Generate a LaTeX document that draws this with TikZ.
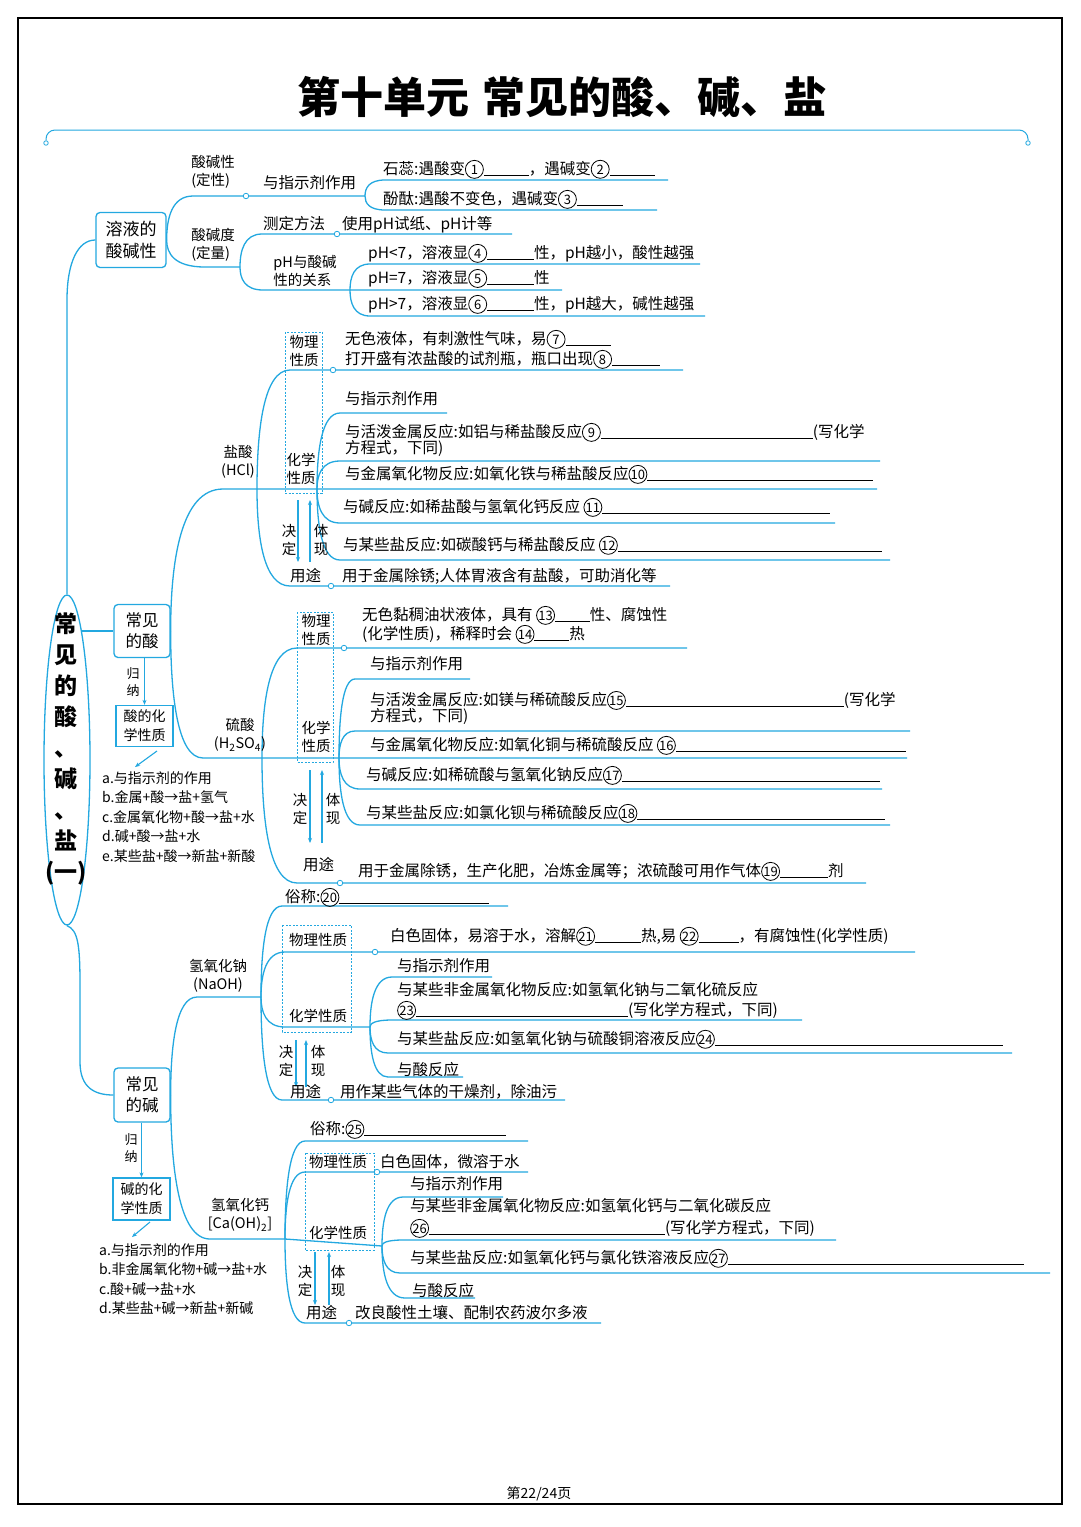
\documentclass[tikz,border=0pt]{standalone}
\usepackage{fontspec}
\setmainfont{Noto Sans CJK SC}
\usetikzlibrary{shapes.geometric,arrows.meta,calc}
\definecolor{mapblue}{RGB}{35,168,224}
\newcommand\fsz[2]{\fontsize{#1}{#2}\selectfont}
\newcommand\blank[1]{\rule[-2pt]{#1pt}{0.8pt}}
% circled answer number
\newcommand\cn[1]{\tikz[baseline=(cnum.base)]\node[circle, draw=black, line width=0.8pt, inner sep=0pt,
    minimum size=18pt, font=\fsz{13}{13}] (cnum) {#1};}
% curved branch: junction -> start of line -> end of line
\newcommand\brch[3]{\draw[br] (#1) .. controls ($(#1)!0.5!(#1|-#2)$) and ($(#2)!0.8!(#1|-#2)$) .. (#2) -- (#3);}

\begin{document}
\begin{tikzpicture}[
    x=1pt, y=-1pt,
    br/.style={mapblue, line width=1.3pt},
    txt/.style={anchor=base west, inner sep=0pt, font=\fsz{15.5}{18}},
    lbl/.style={inner sep=0pt, align=center, font=\fsz{14.5}{18.5}},
    rbox/.style={draw=mapblue, line width=1.3pt, rounded corners=4pt, align=center, inner sep=0pt},
    sbox/.style={draw=mapblue, line width=1.3pt, align=center, inner sep=0pt, font=\fsz{14}{19}},
    dashbox/.style={draw=mapblue, line width=0.8pt, dash pattern=on 2pt off 1.5pt},
    dot/.style={circle, draw=mapblue, fill=white, line width=0.8pt, inner sep=0pt, minimum size=5.5pt},
    arr/.style={mapblue, line width=1.1pt, -{Stealth[length=5pt,width=4pt]}}
  ]
  \fill[white] (0,0) rectangle (1080,1527);
  \useasboundingbox (0,0) rectangle (1080,1527);
  \draw[black, line width=1.6pt] (18,18) rectangle (1062,1504);

  % ---- Title ----
  \node[font=\fsz{43}{50}\bfseries] (title) at (562,97) {第十单元\hspace{0.3em}常见的酸、碱、盐};
  \node[dot, minimum size=4.5pt] (bl) at (46,143) {};
  \node[dot, minimum size=4.5pt] (br) at (1028,143) {};
  \draw[br, line width=1pt, rounded corners=9pt] (bl.north) -- (46,130) -- (1028,130) -- (br.north);

  % ---- Main ellipse and boxes ----
  \node[draw=mapblue, line width=1.3pt, ellipse, minimum width=46pt, minimum height=330pt, inner sep=0pt] (main) at (67,760) {};
  \node[font=\fsz{23}{31}\bfseries, align=center, inner sep=0pt] (maintxt) at (66,749) {常\\见\\的\\酸\\、\\碱\\、\\盐\\(一)};
  \node[rbox, minimum width=70pt, minimum height=55pt, font=\fsz{17}{22}] (sol) at (131,240) {溶液的\\酸碱性};
  \node[rbox, minimum width=56pt, minimum height=53pt, font=\fsz{16.5}{21}] (acid) at (142,631) {常见\\的酸};
  \node[rbox, minimum width=56pt, minimum height=54pt, font=\fsz{16.5}{21}] (base) at (142,1095) {常见\\的碱};
  \node[sbox, minimum width=57pt, minimum height=41pt] (acidchem) at (144.5,726) {酸的化\\学性质};
  \node[sbox, minimum width=57pt, minimum height=42pt] (basechem) at (141.5,1199) {碱的化\\学性质};

  \coordinate (ea) at (81,631);
  \draw[br] (main.north) -- (67,300) .. controls (67,262) and (78,240) .. (sol.west);
  \draw[br] (ea) -- (acid.west);
  \draw[br] (main.south) .. controls (78,930) and (80,945) .. (80,985) -- (80,1062) .. controls (80,1088) and (95,1095) .. (base.west);

  % ---- Summaries ----
  \draw[arr] (acid.south -| acidchem.north) -- (acidchem.north);
  \node[lbl, font=\fsz{13}{17}] (acidsum) at (133,682) {归\\纳};
  \coordinate (acA) at (157,751);
  \coordinate (acB) at (135,767);
  \draw[arr] (acA) -- (acB);
  \node[anchor=north west, inner sep=0pt, align=left, font=\fsz{14}{19.5}] (acidlst) at (102,771)
    {a.与指示剂的作用\\b.金属+酸→盐+氢气\\c.金属氧化物+酸→盐+水\\d.碱+酸→盐+水\\e.某些盐+酸→新盐+新酸};
  \draw[arr] (base.south -| basechem.north) -- (basechem.north);
  \node[lbl, font=\fsz{13}{17}] (basesum) at (131,1148) {归\\纳};
  \coordinate (bcA) at (150,1222);
  \coordinate (bcB) at (132,1237);
  \draw[arr] (bcA) -- (bcB);
  \node[anchor=north west, inner sep=0pt, align=left, font=\fsz{14}{19.5}] (baselst) at (99,1243)
    {a.与指示剂的作用\\b.非金属氧化物+碱→盐+水\\c.酸+碱→盐+水\\d.某些盐+碱→新盐+新碱};

  % ---- Solution acidity ----
  \coordinate (q0) at (193,196);  \coordinate (q1) at (365,196);
  \coordinate (lit0) at (385,180); \coordinate (lit1) at (668,180);
  \coordinate (phe0) at (385,210); \coordinate (phe1) at (657,210);
  \coordinate (d0) at (205,267);  \coordinate (d1) at (240,267);
  \coordinate (m0) at (262,234);  \coordinate (m1) at (512,234);
  \coordinate (r0) at (263,290);  \coordinate (r1) at (350,290); \coordinate (r2) at (562,290);
  \coordinate (lt0) at (370,264); \coordinate (lt1) at (700,264);
  \coordinate (gt0) at (370,316); \coordinate (gt1) at (705,316);
  \brch{sol.east}{q0}{q1}
  \brch{q1}{lit0}{lit1}
  \brch{q1}{phe0}{phe1}
  \brch{sol.east}{d0}{d1}
  \brch{d1}{m0}{m1}
  \brch{d1}{r0}{r2}
  \brch{r1}{lt0}{lt1}
  \brch{r1}{gt0}{gt1}

  \node[lbl, align=left] (qlab) at (213,172) {酸碱性\\(定性)};
  \node[txt] (indq) at (263,188) {与指示剂作用};
  \node[txt] (litmus) at (383,174) {石蕊:遇酸变\cn{1}\blank{45}，遇碱变\cn{2}\blank{45}};
  \node[txt] (phenol) at (383,204) {酚酞:遇酸不变色，遇碱变\cn{3}\blank{46}};
  \node[lbl, align=left] (dlab) at (213,245) {酸碱度\\(定量)};
  \node[txt] (meas) at (263,229) {测定方法};
  \node[txt] (meastxt) at (342,229) {使用pH试纸、pH计等};
  \node[lbl, align=left] (rel) at (305,271) {pH与酸碱\\性的关系};
  \node[txt] (lt) at (368,258) {pH<7，溶液显\cn{4}\blank{47}性，pH越小，酸性越强};
  \node[txt] (eq) at (368,283) {pH=7，溶液显\cn{5}\blank{47}性};
  \node[txt] (gt) at (368,309) {pH>7，溶液显\cn{6}\blank{47}性，pH越大，碱性越强};

  % ---- Hydrochloric acid ----
  \coordinate (h0) at (223,489); \coordinate (h1) at (257,489);
  \coordinate (hc) at (317,489); \coordinate (h2) at (877,489);
  \coordinate (hp0) at (290,370); \coordinate (hp1) at (683,370);
  \coordinate (hu0) at (290,586); \coordinate (hu1) at (670,586);
  \coordinate (hi0) at (340,413); \coordinate (hi1) at (447,413);
  \coordinate (hm0) at (340,461); \coordinate (hm1) at (880,461);
  \coordinate (hb0) at (340,523); \coordinate (hb1) at (835,523);
  \coordinate (hs0) at (340,560); \coordinate (hs1) at (890,560);
  \draw[dashbox] (285,332) rectangle (322,493);
  \brch{acid.east}{h0}{h2}
  \brch{h1}{hp0}{hp1}
  \brch{h1}{hu0}{hu1}
  \brch{hc}{hi0}{hi1}
  \brch{hc}{hm0}{hm1}
  \brch{hc}{hb0}{hb1}
  \brch{hc}{hs0}{hs1}
  \coordinate (hdA) at (298,500); \coordinate (hdB) at (298,562);
  \coordinate (htA) at (310,562); \coordinate (htB) at (310,500);
  \draw[arr] (hdA) -- (hdB);
  \draw[arr] (htA) -- (htB);

  \node[lbl] (hcl) at (238,462) {盐酸\\(HCl)};
  \node[lbl] (hphys) at (304,351) {物理\\性质};
  \node[lbl] (hchem) at (301,469) {化学\\性质};
  \node[lbl] (hdec) at (289,540) {决\\定};
  \node[lbl] (hrev) at (321,540) {体\\现};
  \node[txt] (h7) at (345,344) {无色液体，有刺激性气味，易\cn{7}\blank{45}};
  \node[txt] (h8) at (345,364) {打开盛有浓盐酸的试剂瓶，瓶口出现\cn{8}\blank{48}};
  \node[txt] (hind) at (345,404) {与指示剂作用};
  \node[txt] (h9) at (345,437) {与活泼金属反应:如铝与稀盐酸反应\cn{9}\blank{212}(写化学};
  \node[txt] (h9b) at (345,453) {方程式，下同)};
  \node[txt] (h10) at (345,479) {与金属氧化物反应:如氧化铁与稀盐酸反应\cn{10}\blank{226}};
  \node[txt] (h11) at (343,512) {与碱反应:如稀盐酸与氢氧化钙反应 \cn{11}\blank{228}};
  \node[txt] (h12) at (343,550) {与某些盐反应:如碳酸钙与稀盐酸反应 \cn{12}\blank{264}};
  \node[txt] (huse) at (290,581) {用途};
  \node[txt] (husetxt) at (342,581) {用于金属除锈;人体胃液含有盐酸，可助消化等};

  % ---- Sulfuric acid ----
  \coordinate (s0) at (203,758); \coordinate (s1) at (262,758);
  \coordinate (sc) at (339,758); \coordinate (s2) at (907,758);
  \coordinate (sp0) at (297,648); \coordinate (sp1) at (687,648);
  \coordinate (su0) at (297,883); \coordinate (su1) at (866,883);
  \coordinate (si0) at (355,679); \coordinate (si1) at (470,679);
  \coordinate (sm0) at (355,731); \coordinate (sm1) at (910,731);
  \coordinate (sb0) at (360,789); \coordinate (sb1) at (882,789);
  \coordinate (ss0) at (360,825); \coordinate (ss1) at (890,825);
  \draw[dashbox] (297,612) rectangle (333,762);
  \brch{acid.east}{s0}{s2}
  \brch{s1}{sp0}{sp1}
  \brch{s1}{su0}{su1}
  \brch{sc}{si0}{si1}
  \brch{sc}{sm0}{sm1}
  \brch{sc}{sb0}{sb1}
  \brch{sc}{ss0}{ss1}
  \coordinate (sdA) at (310,770); \coordinate (sdB) at (310,843);
  \coordinate (stA) at (322,843); \coordinate (stB) at (322,770);
  \draw[arr] (sdA) -- (sdB);
  \draw[arr] (stA) -- (stB);

  \node[lbl] (h2so4) at (240,735) {硫酸\\(H\textsubscript{2}SO\textsubscript{4})};
  \node[lbl] (sphys) at (316,630) {物理\\性质};
  \node[lbl] (schem) at (316,737) {化学\\性质};
  \node[lbl] (sdec) at (300,809) {决\\定};
  \node[lbl] (srev) at (333,809) {体\\现};
  \node[txt] (s13) at (362,620) {无色黏稠油状液体，具有 \cn{13}\blank{35}性、腐蚀性};
  \node[txt] (s14) at (362,639) {(化学性质)，稀释时会 \cn{14}\blank{35}热};
  \node[txt] (sind) at (370,669) {与指示剂作用};
  \node[txt] (s15) at (370,705) {与活泼金属反应:如镁与稀硫酸反应\cn{15}\blank{218}(写化学};
  \node[txt] (s15b) at (370,721) {方程式，下同)};
  \node[txt] (s16) at (370,750) {与金属氧化物反应:如氧化铜与稀硫酸反应 \cn{16}\blank{230}};
  \node[txt] (s17) at (366,780) {与碱反应:如稀硫酸与氢氧化钠反应\cn{17}\blank{258}};
  \node[txt] (s18) at (366,818) {与某些盐反应:如氯化钡与稀硫酸反应\cn{18}\blank{248}};
  \node[txt] (suse) at (303,870) {用途};
  \node[txt] (s19) at (358,876) {用于金属除锈，生产化肥，冶炼金属等；浓硫酸可用作气体\cn{19}\blank{48}剂};

  % ---- Sodium hydroxide ----
  \coordinate (n0) at (197,997); \coordinate (n1) at (261,997);
  \coordinate (nn0) at (282,906); \coordinate (nn1) at (508,906);
  \coordinate (np0) at (285,952); \coordinate (np1) at (915,952);
  \coordinate (nc0) at (285,1027); \coordinate (nc) at (370,1027);
  \coordinate (nu0) at (282,1100); \coordinate (nu1) at (565,1100);
  \coordinate (ni0) at (392,977); \coordinate (ni1) at (492,977);
  \coordinate (nm0) at (392,1020); \coordinate (nm1) at (802,1020);
  \coordinate (ns0) at (388,1053); \coordinate (ns1) at (1012,1053);
  \coordinate (na0) at (388,1077); \coordinate (na1) at (463,1077);
  \draw[dashbox] (282,925) rectangle (351,1032);
  \brch{base.east}{n0}{n1}
  \brch{n1}{nn0}{nn1}
  \brch{n1}{np0}{np1}
  \brch{n1}{nc0}{nc}
  \brch{n1}{nu0}{nu1}
  \brch{nc}{ni0}{ni1}
  \brch{nc}{nm0}{nm1}
  \brch{nc}{ns0}{ns1}
  \brch{nc}{na0}{na1}
  \coordinate (ndA) at (296,1040); \coordinate (ndB) at (296,1087);
  \coordinate (ntA) at (306,1087); \coordinate (ntB) at (306,1040);
  \draw[arr] (ndA) -- (ndB);
  \draw[arr] (ntA) -- (ntB);

  \node[lbl] (naoh) at (218,976) {氢氧化钠\\(NaOH)};
  \node[lbl] (nphys) at (318,940) {物理性质};
  \node[lbl] (nchem) at (318,1016) {化学性质};
  \node[lbl] (ndec) at (286,1061) {决\\定};
  \node[lbl] (nrev) at (318,1061) {体\\现};
  \node[txt] (nnick) at (285,902) {俗称:\cn{20}\blank{150}};
  \node[txt] (n21) at (390,941) {白色固体，易溶于水，溶解\cn{21}\blank{46}热,易 \cn{22}\blank{40}，有腐蚀性(化学性质)};
  \node[txt] (nind) at (397,971) {与指示剂作用};
  \node[txt] (n23a) at (397,995) {与某些非金属氧化物反应:如氢氧化钠与二氧化硫反应};
  \node[txt] (n23) at (397,1015) {\cn{23}\blank{212}(写化学方程式，下同)};
  \node[txt] (n24) at (397,1044) {与某些盐反应:如氢氧化钠与硫酸铜溶液反应\cn{24}\blank{288}};
  \node[txt] (nacid) at (397,1075) {与酸反应};
  \node[txt] (nuse) at (290,1097) {用途};
  \node[txt] (nusetxt) at (340,1097) {用作某些气体的干燥剂，除油污};

  % ---- Calcium hydroxide ----
  \coordinate (c0) at (210,1239); \coordinate (c1) at (285,1239);
  \coordinate (cn0) at (305,1141); \coordinate (cn1) at (528,1141);
  \coordinate (cp0) at (305,1172); \coordinate (cp1) at (528,1172);
  \coordinate (cc) at (382,1246);
  \coordinate (cu0) at (305,1323); \coordinate (cu1) at (601,1323);
  \coordinate (ci0) at (403,1197); \coordinate (ci1) at (503,1197);
  \coordinate (cm0) at (403,1240); \coordinate (cm1) at (836,1240);
  \coordinate (cs0) at (400,1273); \coordinate (cs1) at (1050,1273);
  \coordinate (ca0) at (405,1298); \coordinate (ca1) at (475,1298);
  \draw[dashbox] (305,1153) rectangle (374,1250);
  \brch{base.east}{c0}{c1}
  \brch{c1}{cn0}{cn1}
  \brch{c1}{cp0}{cp1}
  \draw[br] (c1) -- (cc);
  \brch{c1}{cu0}{cu1}
  \brch{cc}{ci0}{ci1}
  \brch{cc}{cm0}{cm1}
  \brch{cc}{cs0}{cs1}
  \brch{cc}{ca0}{ca1}
  \coordinate (cdA) at (315,1252); \coordinate (cdB) at (315,1305);
  \coordinate (ctA) at (329,1305); \coordinate (ctB) at (329,1252);
  \draw[arr] (cdA) -- (cdB);
  \draw[arr] (ctA) -- (ctB);

  \node[lbl] (caoh) at (240,1215) {氢氧化钙\\{[}Ca(OH)\textsubscript{2}{]}};
  \node[lbl] (cphys) at (338,1162) {物理性质};
  \node[lbl] (cchem) at (338,1233) {化学性质};
  \node[lbl] (cdec) at (305,1281) {决\\定};
  \node[lbl] (crev) at (338,1281) {体\\现};
  \node[txt] (cnick) at (310,1134) {俗称:\cn{25}\blank{142}};
  \node[txt] (cphystxt) at (380,1167) {白色固体，微溶于水};
  \node[txt] (cind) at (410,1189) {与指示剂作用};
  \node[txt] (c26a) at (410,1211) {与某些非金属氧化物反应:如氢氧化钙与二氧化碳反应};
  \node[txt] (c26) at (410,1233) {\cn{26}\blank{236}(写化学方程式，下同)};
  \node[txt] (c27) at (410,1263) {与某些盐反应:如氢氧化钙与氯化铁溶液反应\cn{27}\blank{296}};
  \node[txt] (cacid) at (412,1296) {与酸反应};
  \node[txt] (cuse) at (306,1318) {用途};
  \node[txt] (cusetxt) at (355,1318) {改良酸性土壤、配制农药波尔多液};

  % ---- Dots on lines ----
  \node[dot] (qd) at (246,196) {};
  \node[dot] (md) at (337,234) {};
  \node[dot] (hpd) at (333,370) {};
  \node[dot] (hud) at (331,586) {};
  \node[dot] (spd) at (344,648) {};
  \node[dot] (sud) at (340,883) {};
  \node[dot] (npd) at (375,952) {};
  \node[dot] (nud) at (331,1100) {};
  \node[dot] (cpd) at (377,1172) {};
  \node[dot] (cud) at (349,1323) {};

  % ---- Footer ----
  \node[font=\fsz{14}{16}] (page) at (539,1494) {第22/24页};
\end{tikzpicture}
\end{document}
